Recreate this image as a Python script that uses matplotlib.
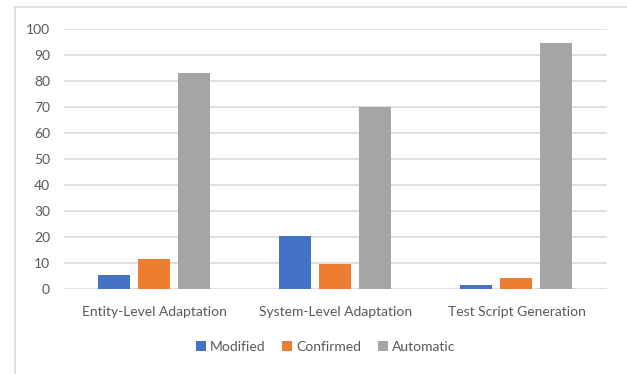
import numpy as np
import matplotlib.pyplot as plt
from matplotlib.lines import Line2D

plt.rcParams['font.family'] = ['Lato', 'DejaVu Sans']

categories = ["Entity-Level Adaptation", "System-Level Adaptation", "Test Script Generation"]
modified = [5.4, 20.5, 1.4]
confirmed = [11.4, 9.5, 4.1]
automatic = [83, 70, 94.5]

series = [("Modified", modified, "#4472C4"),
          ("Confirmed", confirmed, "#ED7D31"),
          ("Automatic", automatic, "#A5A5A5")]

text_col = "#595959"
grid_col = "#D9D9D9"

fig = plt.figure(figsize=(6.27, 3.74), dpi=100)
ax = fig.add_axes([0.102, 0.227, 0.866, 0.695])

x = np.arange(len(categories))
width = 0.177
step = 0.221
for i, (name, vals, col) in enumerate(series):
    ax.bar(x + (i - 1) * step, vals, width, color=col, label=name, zorder=3)

ax.set_xlim(-0.5, len(categories) - 0.5)
ax.set_ylim(0, 100)
ax.set_yticks(range(0, 101, 10))
ax.set_xticks(x)
ax.set_xticklabels(categories)
ax.yaxis.grid(True, color=grid_col, linewidth=1.2, zorder=0)
for s in ax.spines.values():
    s.set_visible(False)
ax.tick_params(axis='both', length=0, colors=text_col, labelsize=10)
ax.tick_params(axis='x', pad=12)
ax.tick_params(axis='y', pad=10)

ax.legend(loc='upper center', bbox_to_anchor=(0.482, -0.15), ncol=3, frameon=False,
          handlelength=0.7, handleheight=0.7, handletextpad=0.3, columnspacing=1.2,
          labelcolor=text_col, fontsize=10)

# chart area border (left and top edges)
fig.add_artist(Line2D([0.024, 0.024], [0, 0.981], color=grid_col, linewidth=1.2))
fig.add_artist(Line2D([0.024, 1.0], [0.981, 0.981], color=grid_col, linewidth=1.2))

fig.savefig("out.png", dpi=100)
